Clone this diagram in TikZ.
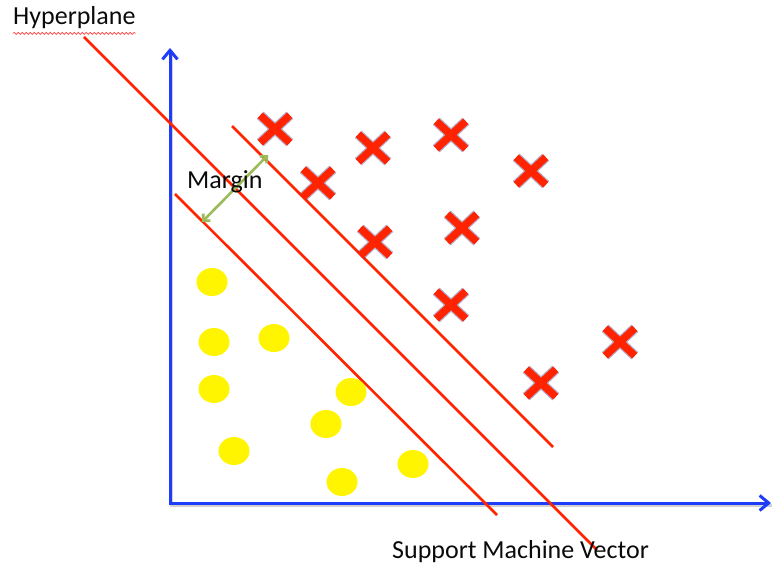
\documentclass[tikz,border=0pt]{standalone}
\usepackage{fontspec}
\setmainfont{Carlito}
\usetikzlibrary{arrows.meta,decorations.pathmorphing,shapes.geometric,shapes.misc}

\definecolor{axisblue}{RGB}{30,60,250}
\definecolor{sepred}{RGB}{255,35,0}
\definecolor{marggreen}{RGB}{155,187,89}
\definecolor{dotyellow}{RGB}{255,245,0}
\definecolor{xred}{RGB}{255,35,0}
\definecolor{xshade}{RGB}{95,75,135}
\definecolor{txt}{RGB}{10,10,10}

\begin{document}
\begin{tikzpicture}[x=1pt,y=-1pt,
  axis/.style={draw=axisblue, line width=3pt, line join=miter,
    {Straight Barb[length=9pt,width=15pt]}-{Straight Barb[length=9pt,width=15pt]}},
  axisshadow/.style={draw=black, opacity=.18, line width=3.5pt,
    transform canvas={shift={(1.5pt,-2.5pt)}}},
  sepline/.style={draw=sepred, line width=2.6pt},
  margarrow/.style={draw=marggreen, line width=2.6pt,
    {Straight Barb[length=5pt,width=10pt]}-{Straight Barb[length=5pt,width=10pt]}},
  dot/.style={ellipse, fill=dotyellow, minimum width=31pt, minimum height=28pt, inner sep=0pt},
  xmark/.style={cross out, draw=xred, line width=7.5pt, minimum width=22pt,
    minimum height=20pt, inner sep=0pt,
    preaction={draw=xshade, line width=10pt, opacity=.45}},
  lbl/.style={text=txt, font=\fontsize{26}{30}\selectfont, inner sep=0pt, anchor=base west}
]
\useasboundingbox (0,0) rectangle (772,567);

% axes
\coordinate (origin) at (170,503);
\coordinate (ytip) at (170,48);
\coordinate (xtip) at (771,503);
\draw[axisshadow] (ytip) -- (origin) -- (xtip);
\draw[axis] (ytip) -- (origin) -- (xtip);

% separating hyperplane and the two margin lines
\coordinate (h1) at (84,37);   \coordinate (h2) at (597,550);
\coordinate (u1) at (232,126); \coordinate (u2) at (553,447);
\coordinate (l1) at (175,194); \coordinate (l2) at (497,515);
\draw[sepline] (h1) -- (h2);
\draw[sepline] (u1) -- (u2);
\draw[sepline] (l1) -- (l2);

% margin arrow
\coordinate (m1) at (202,222);
\coordinate (m2) at (268,155);
\draw[margarrow] (m1) -- (m2);

% class one: yellow dots
\node[dot] (d1) at (212,282) {};
\node[dot] (d2) at (214,342) {};
\node[dot] (d3) at (274,338) {};
\node[dot] (d4) at (214,389) {};
\node[dot] (d5) at (351,392) {};
\node[dot] (d6) at (326,424) {};
\node[dot] (d7) at (234,451) {};
\node[dot] (d8) at (413,464) {};
\node[dot] (d9) at (342,482) {};

% class two: red crosses
\node[xmark] (x1) at (275,129) {};
\node[xmark] (x2) at (373,148) {};
\node[xmark] (x3) at (451,135) {};
\node[xmark] (x4) at (318,183) {};
\node[xmark] (x5) at (531,171) {};
\node[xmark] (x6) at (375,242) {};
\node[xmark] (x7) at (462,228) {};
\node[xmark] (x8) at (451,305) {};
\node[xmark] (x9) at (620,342) {};
\node[xmark] (x10) at (541,383) {};

% labels
\node[lbl] (hyp) at (13,25) {Hyperplane};
\draw[red!75, line width=0.6pt, decorate,
  decoration={snake, amplitude=1pt, segment length=4pt}]
  (hyp.south west) ++(0,4) coordinate (sq1) -- (hyp.south east |- sq1);
\node[lbl] (marg) at (187,189) {Margin};
\node[lbl] (smv) at (392,558) {Support Machine Vector};
\end{tikzpicture}
\end{document}
